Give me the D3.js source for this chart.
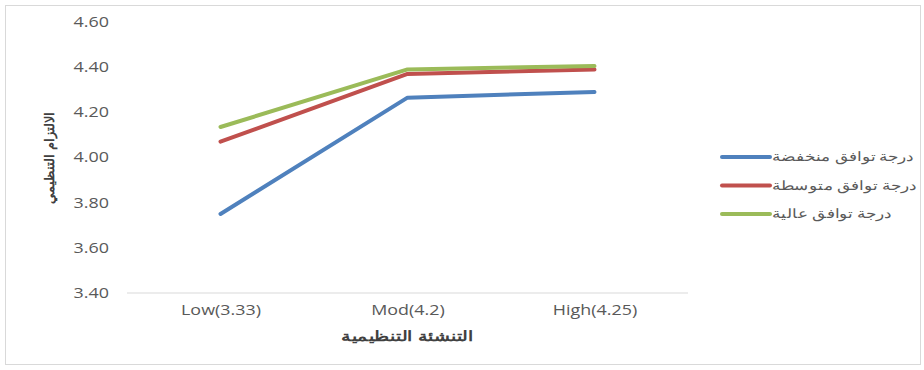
<!DOCTYPE html>
<html>
<head>
<meta charset="utf-8">
<style>
  body { margin: 0; background: #fff; }
  text { font-family: "Open Sans", "Noto Sans", sans-serif; }
</style>
</head>
<body>
<script src="https://cdnjs.cloudflare.com/ajax/libs/d3/7.8.5/d3.min.js"></script>
<script>
var categories = ["Low(3.33)", "Mod(4.2)", "High(4.25)"];
var seriesNames = ["درجة توافق منخفضة", "درجة توافق متوسطة", "درجة توافق عالية"];
var lowValues = [3.75, 4.265, 4.29];
var midValues = [4.07, 4.37, 4.39];
var highValues = [4.135, 4.39, 4.405];
var yTicks = [3.4, 3.6, 3.8, 4.0, 4.2, 4.4, 4.6];
var colors = ["#4f81bd", "#c0504d", "#9bbb59"];

var series = [lowValues, midValues, highValues].map(function(v, i) {
    return { name: seriesNames[i], values: v, color: colors[i] };
});

var w = 924, h = 370;
var svg = d3.select("body").append("svg")
    .attr("width", w).attr("height", h);

// outer frame
svg.append("rect")
    .attr("x", 5.5).attr("y", 5.5)
    .attr("width", 915).attr("height", 359)
    .attr("fill", "#fff").attr("stroke", "#d9d9d9");

var plot = { left: 127, right: 688, top: 22, bottom: 293 };
var stretch = 1.28; // the original picture is widened a bit

var x = d3.scalePoint()
    .domain(categories)
    .range([plot.left, plot.right])
    .padding(0.5);

var y = d3.scaleLinear()
    .domain([3.4, 4.6])
    .range([plot.bottom, plot.top]);

// baseline
svg.append("line")
    .attr("x1", plot.left).attr("x2", plot.right)
    .attr("y1", y(3.4)).attr("y2", y(3.4))
    .attr("stroke", "#d9d9d9").attr("stroke-width", 1);

// y tick labels
var yAxis = svg.append("g")
    .attr("transform", "translate(" + (plot.left - 18) + ",0)")
    .call(d3.axisLeft(y).tickValues(yTicks).tickFormat(d3.format(".2f")).tickSize(0).tickPadding(0));
yAxis.select(".domain").remove();
yAxis.selectAll("text")
    .attr("font-size", "14px")
    .attr("fill", "#595959")
    .attr("transform", "scale(" + stretch + ",1)");

// x tick labels
var xAxis = svg.append("g")
    .attr("transform", "translate(0," + plot.bottom + ")")
    .call(d3.axisBottom(x).tickSize(0).tickPadding(12));
xAxis.select(".domain").remove();
xAxis.selectAll("text")
    .attr("font-size", "14px")
    .attr("fill", "#595959")
    .attr("transform", "scale(" + stretch + ",1)");

// axis titles
svg.append("text")
    .attr("transform", "translate(" + ((plot.left + plot.right) / 2) + ",341) scale(1.35,1)")
    .attr("text-anchor", "middle")
    .attr("direction", "rtl")
    .attr("font-size", "14px")
    .attr("font-weight", "bold")
    .attr("fill", "#404040")
    .style("font-family", "'Noto Sans', sans-serif")
    .text("التنشئة التنظيمية");

svg.append("text")
    .attr("transform", "translate(54,158) rotate(-90)")
    .attr("text-anchor", "middle")
    .attr("direction", "rtl")
    .attr("font-size", "13px")
    .attr("font-weight", "bold")
    .attr("fill", "#404040")
    .style("font-family", "'Noto Sans', sans-serif")
    .text("الالتزام التنظيمي");

// lines
var line = d3.line()
    .x(function(d, i) { return x(categories[i]); })
    .y(function(d) { return y(d); });

svg.selectAll("path.series")
    .data(series)
    .enter()
    .append("path")
    .attr("class", "series")
    .attr("d", function(d) { return line(d.values); })
    .attr("fill", "none")
    .attr("stroke", function(d) { return d.color; })
    .attr("stroke-width", 4)
    .attr("stroke-linecap", "round")
    .attr("stroke-linejoin", "round");

// legend
var legend = svg.selectAll("g.legend")
    .data(series)
    .enter()
    .append("g")
    .attr("class", "legend")
    .attr("transform", function(d, i) { return "translate(722," + (157 + i * 28.5) + ")"; });

legend.append("line")
    .attr("x1", 0).attr("x2", 48)
    .attr("stroke", function(d) { return d.color; })
    .attr("stroke-width", 4)
    .attr("stroke-linecap", "round");

legend.append("text")
    .attr("transform", "translate(50,4) scale(1.3,1)")
    .attr("text-anchor", "end")
    .attr("direction", "rtl")
    .attr("font-size", "13px")
    .attr("fill", "#595959")
    .style("font-family", "'Noto Sans', sans-serif")
    .text(function(d) { return d.name; });
</script>
</body>
</html>
